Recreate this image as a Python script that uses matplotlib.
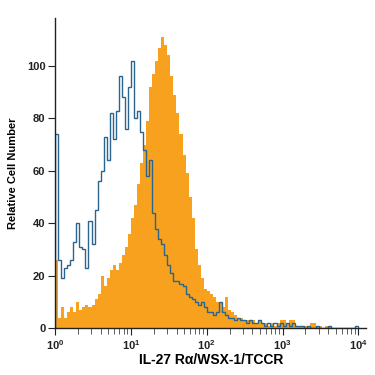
import numpy as np
import matplotlib
matplotlib.use("Agg")
import matplotlib.pyplot as plt
from matplotlib.ticker import FixedLocator, FixedFormatter, LogLocator, NullFormatter

# histogram counts per bin (bins of 0.04 decade from 10^0 to 10^4)
BIN_STEP = 0.04
stained = [26, 4, 8, 4, 6, 8, 6, 10, 7, 8,
           9, 8, 9, 11, 13, 20, 16, 19, 22, 24,
           22, 25, 28, 31, 36, 42, 47, 55, 63, 70,
           79, 92, 97, 102, 107, 111, 108, 104, 96, 89,
           82, 74, 66, 59, 50, 42, 30, 24, 19, 15,
           14, 13, 12, 10, 10, 8, 12, 7, 6, 5,
           4, 4, 3, 3, 3, 3, 2, 3, 2, 2,
           1, 2, 1, 2, 3, 3, 2, 3, 3, 1,
           1, 1, 1, 1, 2, 2, 1, 1, 0, 1,
           1, 0, 0, 0, 0, 0, 0, 0, 0, 0]
isotype = [74, 26, 19, 23, 24, 26, 33, 40, 31, 30,
           23, 41, 32, 45, 56, 60, 73, 64, 82, 72,
           83, 96, 88, 76, 92, 102, 80, 83, 75, 68,
           58, 64, 44, 38, 34, 32, 28, 24, 21, 18,
           18, 17, 16, 13, 12, 11, 10, 9, 10, 8,
           6, 6, 5, 6, 10, 6, 5, 4, 4, 3,
           4, 3, 3, 2, 3, 2, 2, 3, 2, 1,
           2, 1, 2, 1, 2, 1, 2, 1, 2, 1,
           1, 1, 0, 1, 0, 0, 1, 0, 0, 0,
           1, 0, 0, 0, 0, 0, 0, 0, 0, 1]
y_ticks = [0, 20, 40, 60, 80, 100]
x_ticks = [1, 10, 100, 1000, 10000]
x_tick_labels = [r"$10^{0}$", r"$10^{1}$", r"$10^{2}$", r"$10^{3}$", r"$10^{4}$"]

FONT = ["Liberation Sans", "DejaVu Sans"]
plt.rcParams["font.family"] = FONT
plt.rcParams["font.weight"] = "bold"
plt.rcParams["mathtext.fontset"] = "custom"
plt.rcParams["mathtext.rm"] = "Liberation Sans:bold"
plt.rcParams["mathtext.default"] = "rm"

edges = 10 ** (np.arange(len(stained) + 1) * BIN_STEP)

fig = plt.figure(figsize=(3.75, 3.75), dpi=100)
ax = fig.add_axes([0.147, 0.125, 0.83, 0.827])

ax.stairs(stained, edges, fill=True, color="#F7A11E", linewidth=0)
ax.stairs(isotype, edges, fill=False, color="#2A6590", linewidth=1.0)

ax.set_xscale("log")
ax.set_xlim(1, 10 ** 4.105)
ax.set_ylim(0, 118.3)

ax.xaxis.set_major_locator(FixedLocator(x_ticks))
ax.xaxis.set_major_formatter(FixedFormatter(x_tick_labels))
ax.xaxis.set_minor_locator(LogLocator(base=10, subs=np.arange(2, 10), numticks=20))
ax.xaxis.set_minor_formatter(NullFormatter())
ax.set_yticks(y_ticks)

ax.spines["top"].set_visible(False)
ax.spines["right"].set_visible(False)
for s in ("left", "bottom"):
    ax.spines[s].set_linewidth(1.0)
    ax.spines[s].set_color("#222222")

ax.tick_params(axis="both", which="major", direction="out", length=5, width=0.8,
               labelsize=8, colors="#222222", pad=2)
ax.tick_params(axis="x", which="minor", direction="out", length=4, width=0.6, colors="#444444")

ax.set_xlabel("IL-27 R\u03b1/WSX-1/TCCR", fontsize=10, fontweight="bold", labelpad=1)
ax.set_ylabel("Relative Cell Number", fontsize=8, fontweight="bold", labelpad=6)

fig.savefig("out.png", dpi=100)
